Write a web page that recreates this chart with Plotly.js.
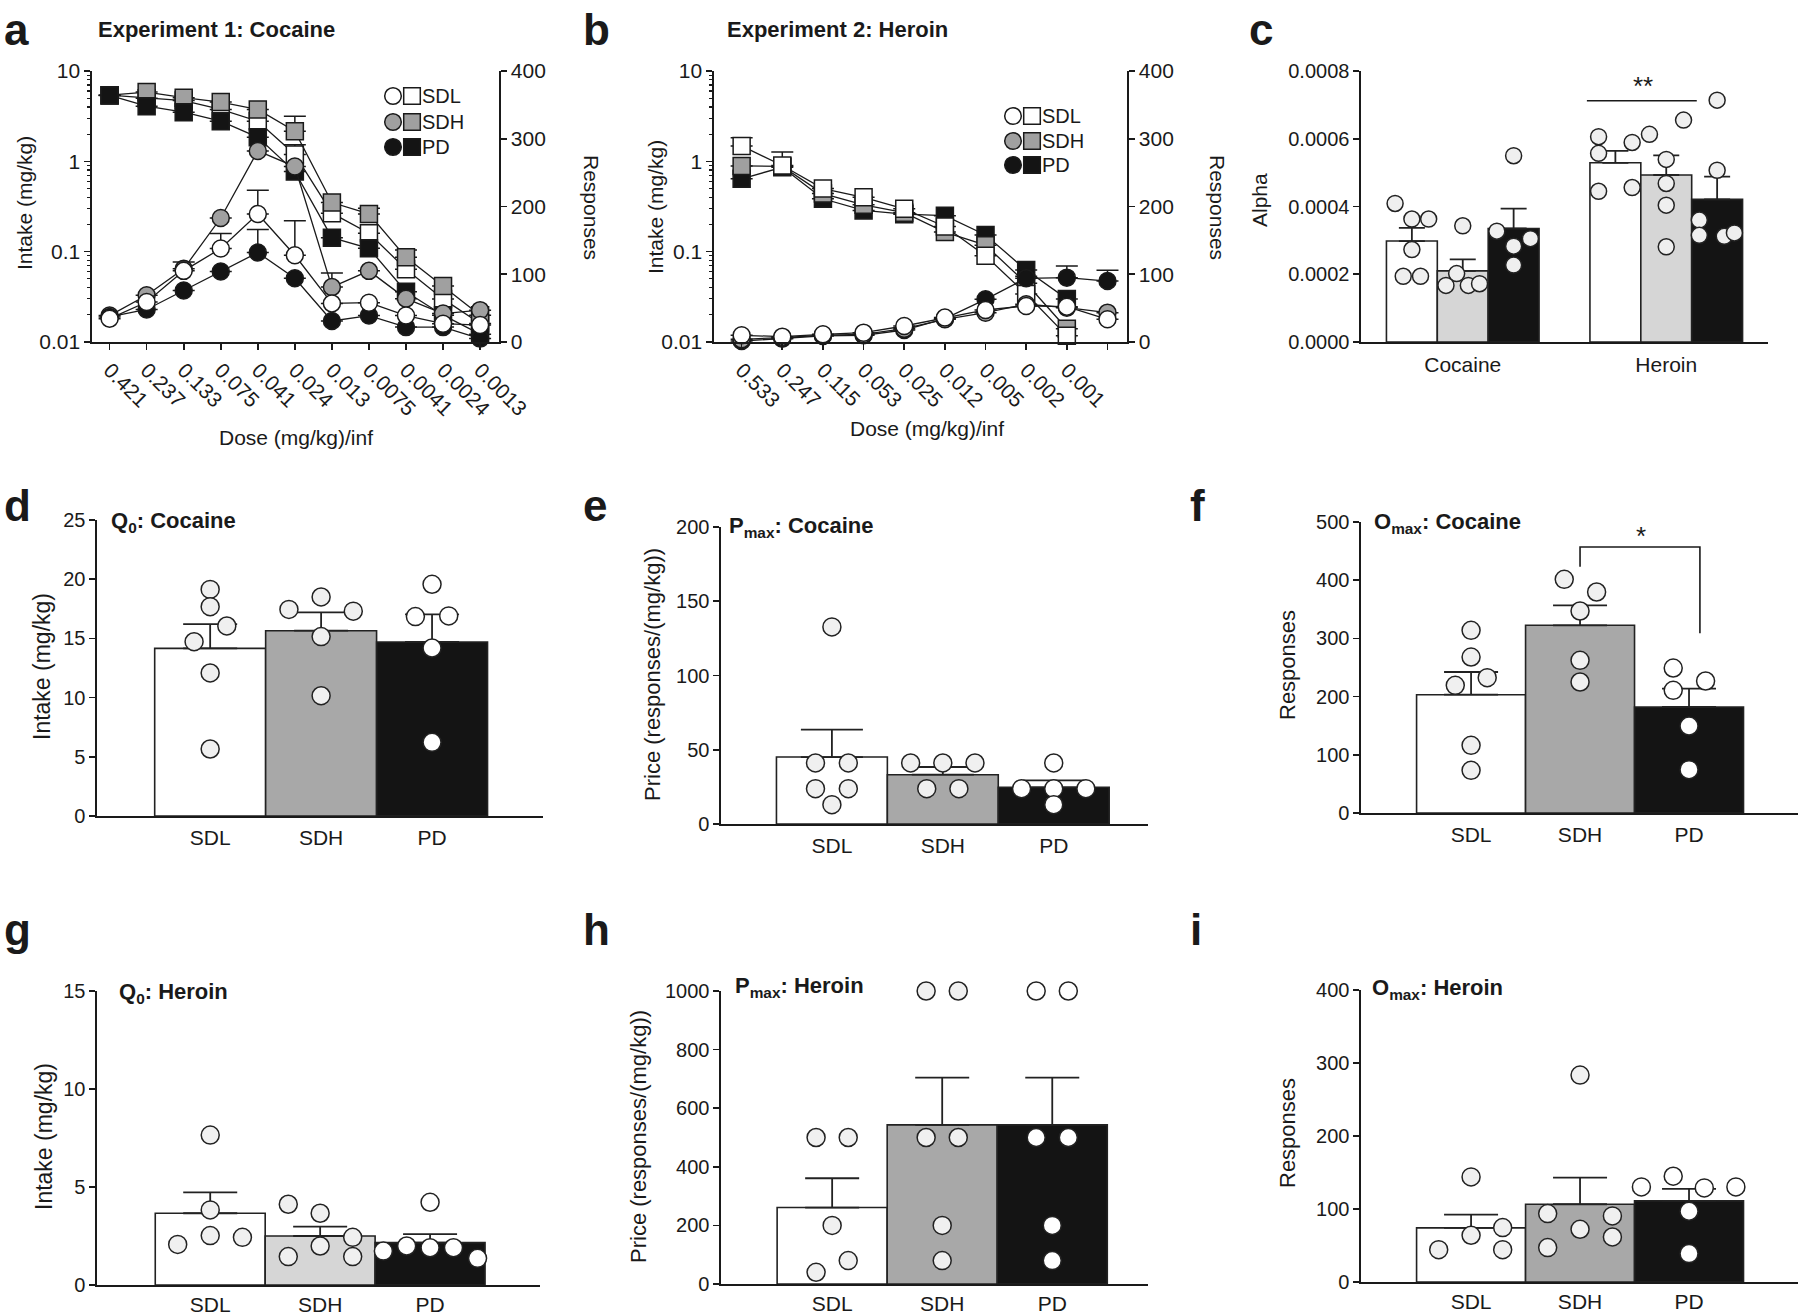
<!DOCTYPE html>
<html>
<head>
<meta charset="utf-8">
<script src="https://cdn.plot.ly/plotly-3.0.1.min.js"></script>
<style>
  body { margin: 0; background: #fff; }
  #chart { width: 1800px; height: 1316px; }
</style>
</head>
<body>
<div id="chart"></div>
<script>
const W = 1800, H = 1316;
const FONT = "Liberation Sans, Arial, Helvetica, sans-serif";
const INK = "#1a1a1a";

const groups = ["SDL", "SDH", "PD"];
const barFill = ["#ffffff", "#a8a8a8", "#141414"];
const barFillLight = ["#ffffff", "#d6d6d6", "#141414"];
const curveFill = ["#ffffff", "#a0a0a0", "#141414"];

// ---- a: cocaine demand curves (squares = intake, circles = responses)
const cocaineDoses = ["0.421", "0.237", "0.133", "0.075", "0.041", "0.024", "0.013", "0.0075", "0.0041", "0.0024", "0.0013"];
const cocIntake = [
  [5.4, 5.0, 4.7, 3.75, 2.78, 1.19, 0.267, 0.16, 0.064, 0.030, 0.016],
  [5.4, 5.85, 5.06, 4.53, 3.75, 2.15, 0.35, 0.262, 0.0865, 0.0416, 0.0198],
  [5.37, 4.08, 3.5, 2.78, 1.85, 0.77, 0.143, 0.109, 0.036, 0.0198, 0.0122]
];
const cocIntakeErr = [
  [0, 0, 0, 0, 0, 0.34, 0, 0, 0, 0, 0],
  [0, 0, 0, 0, 0, 1.0, 0, 0.04, 0.018, 0, 0],
  [0, 0, 0, 0, 0, 0, 0, 0, 0, 0, 0]
];
const cocResp = [
  [34.5, 59, 105, 138, 189, 128, 57, 58, 39, 27, 25],
  [39, 69, 108, 183, 282, 259, 81, 105, 64, 42, 47],
  [37, 48, 76, 104, 132, 94, 31, 39, 22, 22, 5]
];
const cocRespErr = [
  [0, 0, 13, 22, 35, 51, 0, 0, 0, 0, 0],
  [0, 0, 0, 0, 0, 0, 21, 0, 0, 0, 0],
  [0, 0, 0, 0, 34, 0, 0, 0, 0, 0, 0]
];

// ---- b: heroin demand curves
const heroinDoses = ["0.533", "0.247", "0.115", "0.053", "0.025", "0.012", "0.005", "0.002", "0.001", ""];
const herIntake = [
  [1.48, 0.90, 0.50, 0.40, 0.298, 0.19, 0.090, 0.034, 0.0117],
  [0.89, 0.88, 0.44, 0.33, 0.27, 0.165, 0.118, 0.0447, 0.014],
  [0.64, 0.86, 0.385, 0.286, 0.26, 0.25, 0.153, 0.0625, 0.030]
];
const herIntakeErr = [
  [0.35, 0.37, 0, 0, 0, 0, 0, 0, 0],
  [0, 0, 0, 0, 0, 0, 0, 0, 0],
  [0, 0, 0, 0, 0, 0, 0, 0, 0]
];
const herResp = [
  [9.9, 7.9, 11.3, 13.8, 23.6, 36, 47.3, 53.2, 52.2, 33.5],
  [4, 6.4, 10, 11.3, 19.7, 33.5, 43.3, 55.7, 50.7, 43.3],
  [1.5, 4.9, 8.9, 9.9, 17.7, 34.5, 63, 94, 95, 90]
];
const herRespErr = [
  [0, 0, 0, 0, 0, 0, 0, 0, 0, 0],
  [0, 0, 0, 0, 0, 0, 0, 0, 0, 0],
  [0, 0, 0, 0, 0, 0, 0, 3, 17, 16]
];

// ---- c: alpha (cocaine bars at 0-2, heroin bars at 4-6)
const alphaCats = ["Cocaine", "Heroin"];
const alphaBarX = [0, 1, 2, 4, 5, 6];
const alphaMean = [0.000298, 0.000210, 0.000335, 0.000529, 0.000493, 0.000421];
const alphaTop = [0.000337, 0.000244, 0.000394, 0.000564, 0.000551, 0.000488];
const alphaDotsY = [
  [0.000409, 0.000363, 0.000363, 0.000273, 0.000194, 0.000194],
  [0.000343, 0.000202, 0.000167, 0.000167, 0.000172],
  [0.000550, 0.000327, 0.000305, 0.000283, 0.000227],
  [0.000606, 0.000557, 0.000445, 0.000589, 0.000456],
  [0.000613, 0.000655, 0.000539, 0.000468, 0.000404, 0.000281],
  [0.000714, 0.000507, 0.000360, 0.000315, 0.000312, 0.000322]
];
const alphaDotsDx = [
  [-0.33, 0, 0.33, 0, -0.17, 0.17],
  [0, -0.12, -0.33, 0.11, 0.33],
  [0, -0.33, 0.33, 0, 0],
  [-0.33, -0.33, -0.33, 0.33, 0.33],
  [-0.33, 0.34, 0, 0, 0, 0],
  [0, 0, -0.35, -0.35, 0.14, 0.34]
];

// ---- d: Q0 cocaine
const qCocMean = [14.16, 15.65, 14.7];
const qCocTop = [16.2, 17.2, 17.03];
const qCocDotsY = [[19.14, 17.68, 16.05, 14.72, 12.08, 5.66], [18.5, 17.45, 17.3, 15.15, 10.16], [19.57, 16.84, 16.9, 14.19, 6.22]];
const qCocDotsDx = [[0, 0, 0.15, -0.145, 0, 0], [0, -0.29, 0.29, 0, 0], [0, -0.15, 0.15, 0, 0]];

// ---- e: Pmax cocaine
const pCocMean = [45.1, 33.2, 24.7];
const pCocTop = [63.5, 38.4, 29.4];
const pCocDotsY = [[132.7, 41.1, 41.1, 23.8, 23.8, 13.0], [41.1, 41.1, 41.1, 23.8, 23.8], [41.1, 23.8, 23.8, 23.8, 13.0]];
const pCocDotsDx = [[0, -0.148, 0.148, -0.148, 0.148, 0], [-0.29, 0, 0.29, -0.145, 0.145], [0, -0.29, 0, 0.29, 0]];

// ---- f: Omax cocaine
const oCocMean = [203.3, 322.5, 182.1];
const oCocTop = [242.3, 356.8, 213.6];
const oCocDotsY = [[313.9, 268, 219.4, 232.5, 116.3, 73.3], [401.5, 379.7, 347.1, 262.3, 225.1], [249.1, 226.8, 210.8, 149.5, 74.5]];
const oCocDotsDx = [[0, 0, -0.145, 0.148, 0, 0], [-0.145, 0.152, 0, 0, 0], [-0.145, 0.152, -0.145, 0, 0]];

// ---- g: Q0 heroin
const qHerMean = [3.66, 2.5, 2.16];
const qHerTop = [4.73, 2.98, 2.6];
const qHerDotsY = [[7.65, 3.83, 2.52, 2.07, 2.43], [4.12, 3.66, 2.43, 1.99, 1.45, 1.45], [4.22, 1.73, 1.99, 1.9, 1.9, 1.36]];
const qHerDotsDx = [[0, 0, 0, -0.296, 0.293], [-0.29, 0, 0.296, 0, -0.29, 0.296], [0, -0.425, -0.213, 0, 0.213, 0.432]];

// ---- h: Pmax heroin
const pHerMean = [261, 543, 543];
const pHerTop = [361, 704.5, 704.5];
const pHerDotsY = [[500, 500, 200, 80, 40], [1000, 1000, 500, 500, 200, 80], [1000, 1000, 500, 500, 200, 80]];
const pHerDotsDx = [[-0.146, 0.146, 0, 0.146, -0.146], [-0.146, 0.146, -0.146, 0.146, 0, 0], [-0.146, 0.146, -0.146, 0.146, 0, 0]];

// ---- i: Omax heroin
const oHerMean = [74.1, 106.5, 111.1];
const oHerTop = [92.3, 143.1, 127.5];
const oHerDotsY = [[144, 74.5, 64, 44.3, 44.3], [283.4, 93.7, 90.5, 72.2, 61.7, 47.1], [144.9, 130.3, 128.9, 130.3, 96.9, 38.9]];
const oHerDotsDx = [[0, 0.29, 0, -0.297, 0.29], [0, -0.297, 0.297, 0, 0.297, -0.297], [-0.145, -0.437, 0.14, 0.43, 0, 0]];

const logMajor = [0.01, 0.1, 1, 10];
const logMajorText = ["0.01", "0.1", "1", "10"];
const logMinor = [0.02, 0.03, 0.04, 0.05, 0.06, 0.07, 0.08, 0.09, 0.2, 0.3, 0.4, 0.5, 0.6, 0.7, 0.8, 0.9, 2, 3, 4, 5, 6, 7, 8, 9];

// pixel helpers (whole figure is one paper of W x H)
const px = x => x / W;
const py = y => 1 - y / H;
const xd = (a, b) => [px(a), px(b)];
const yd = (top, bottom) => [py(bottom), py(top)];

function baseAxis(extra) {
  return Object.assign({
    showline: true, linecolor: INK, linewidth: 1.6, showgrid: false, zeroline: false,
    ticks: "outside", ticklen: 6, tickwidth: 1.6, tickcolor: INK,
    tickfont: { family: FONT, size: 20, color: INK }, fixedrange: true
  }, extra);
}
const bigTick = { family: FONT, size: 21, color: INK };

const traces = [];

function curve(xs, ys, errs, g, xa, ya, symbol) {
  traces.push({
    type: "scatter", mode: "lines+markers", x: xs, y: ys, xaxis: xa, yaxis: ya,
    line: { color: INK, width: 1.3 },
    marker: { symbol: symbol, size: 17, color: curveFill[g], line: { color: INK, width: 1.5 } },
    error_y: { type: "data", symmetric: false, array: errs, arrayminus: errs.map(() => 0), color: INK, thickness: 1.5, width: 11 },
    cliponaxis: false, showlegend: false, hoverinfo: "skip"
  });
}

function bars(xa, ya, xpos, means, tops, fills, capW) {
  traces.push({
    type: "bar", x: xpos, y: means, width: xpos.map(() => 1), xaxis: xa, yaxis: ya,
    marker: { color: fills, line: { color: "#222", width: 1.6 } },
    error_y: { type: "data", symmetric: false, array: tops.map((t, i) => t - means[i]), arrayminus: means.map(() => 0), color: "#222", thickness: 1.8, width: capW },
    showlegend: false, hoverinfo: "skip"
  });
}

function dots(xa, ya, center, dx, ys, fill, size) {
  traces.push({
    type: "scatter", mode: "markers", x: dx.map(d => center + d), y: ys, xaxis: xa, yaxis: ya,
    marker: { size: size, color: fill, line: { color: "#222", width: 1.5 } },
    cliponaxis: false, showlegend: false, hoverinfo: "skip"
  });
}

// a
const cocX = cocaineDoses.map((_, i) => i);
[0, 1, 2].forEach(g => curve(cocX, cocIntake[g], cocIntakeErr[g], g, "x", "y", "square"));
[1, 2, 0].forEach(g => curve(cocX, cocResp[g], cocRespErr[g], g, "x", "y2", "circle"));
// b
const herX = heroinDoses.map((_, i) => i);
[2, 1, 0].forEach(g => curve(herX.slice(0, 9), herIntake[g], herIntakeErr[g], g, "x2", "y3", "square"));
[2, 1, 0].forEach(g => curve(herX, herResp[g], herRespErr[g], g, "x2", "y4", "circle"));
// c
bars("x3", "y5", alphaBarX, alphaMean, alphaTop, barFillLight.concat(barFillLight), 13);
alphaBarX.forEach((c, k) => dots("x3", "y5", c, alphaDotsDx[k], alphaDotsY[k], "#efefef", 16));
// d-i
const barPanels = [
  ["x4", "y6", qCocMean, qCocTop, qCocDotsY, qCocDotsDx, barFill, 27],
  ["x5", "y7", pCocMean, pCocTop, pCocDotsY, pCocDotsDx, barFill, 31],
  ["x6", "y8", oCocMean, oCocTop, oCocDotsY, oCocDotsDx, barFill, 27],
  ["x7", "y9", qHerMean, qHerTop, qHerDotsY, qHerDotsDx, barFillLight, 27],
  ["x8", "y10", pHerMean, pHerTop, pHerDotsY, pHerDotsDx, barFill, 27],
  ["x9", "y11", oHerMean, oHerTop, oHerDotsY, oHerDotsDx, barFill, 27]
];
barPanels.forEach(([xa, ya, m, t, dy, ddx, fills, cap]) => {
  bars(xa, ya, [0, 1, 2], m, t, fills, cap);
  [0, 1, 2].forEach(g => dots(xa, ya, g, ddx[g], dy[g], g === 2 ? "#ffffff" : "#f0f0f0", 18));
});

const catAxis = (dom, range, anchor, standoff) => baseAxis({
  domain: dom, range: range, anchor: anchor, tickvals: [0, 1, 2], ticktext: groups, ticks: "",
  tickfont: { family: FONT, size: 21, color: INK }, ticklabelstandoff: standoff
});

const layout = {
  width: W, height: H, margin: { l: 0, r: 0, t: 0, b: 0 },
  paper_bgcolor: "#ffffff", plot_bgcolor: "rgba(0,0,0,0)",
  font: { family: FONT, color: INK }, showlegend: false,
  // a
  xaxis: baseAxis({ domain: xd(92, 499), range: [-0.475, 10.51], tickvals: cocX, ticktext: cocaineDoses, tickangle: 45, anchor: "y", tickfont: bigTick }),
  yaxis: baseAxis({ domain: yd(71, 342), type: "log", range: [-2, 1], tickvals: logMajor, ticktext: logMajorText, anchor: "x", tickfont: bigTick,
    minor: { tickmode: "array", tickvals: logMinor, ticks: "outside", ticklen: 3, tickwidth: 1.2, tickcolor: INK } }),
  yaxis2: baseAxis({ overlaying: "y", side: "right", anchor: "x", range: [0, 400], tickvals: [0, 100, 200, 300, 400], tickfont: bigTick }),
  // b
  xaxis2: baseAxis({ domain: xd(714, 1127), range: [-0.68, 9.48], tickvals: herX, ticktext: heroinDoses, tickangle: 45, anchor: "y3", tickfont: bigTick }),
  yaxis3: baseAxis({ domain: yd(71, 342), type: "log", range: [-2, 1], tickvals: logMajor, ticktext: logMajorText, anchor: "x2", tickfont: bigTick,
    minor: { tickmode: "array", tickvals: logMinor, ticks: "outside", ticklen: 3, tickwidth: 1.2, tickcolor: INK } }),
  yaxis4: baseAxis({ overlaying: "y3", side: "right", anchor: "x2", range: [0, 400], tickvals: [0, 100, 200, 300, 400], tickfont: bigTick }),
  // c
  xaxis3: baseAxis({ domain: xd(1361, 1768), range: [-1, 7], tickvals: [1, 5], ticktext: alphaCats, ticks: "", anchor: "y5",
    tickfont: { family: FONT, size: 21, color: INK }, ticklabelstandoff: 3 }),
  yaxis5: baseAxis({ domain: yd(71, 342), range: [0, 0.0008], tickvals: [0, 0.0002, 0.0004, 0.0006, 0.0008],
    ticktext: ["0.0000", "0.0002", "0.0004", "0.0006", "0.0008"], anchor: "x3" }),
  // d
  xaxis4: catAxis(xd(97, 543), [-1.02, 3.0], "y6", 2),
  yaxis6: baseAxis({ domain: yd(520, 816), range: [0, 25], tickvals: [0, 5, 10, 15, 20, 25], anchor: "x4" }),
  // e
  xaxis5: catAxis(xd(721, 1148), [-1.0, 2.85], "y7", 2),
  yaxis7: baseAxis({ domain: yd(527, 824), range: [0, 200], tickvals: [0, 50, 100, 150, 200], anchor: "x5" }),
  // f
  xaxis6: catAxis(xd(1361, 1798), [-1.01, 3.0], "y8", 2),
  yaxis8: baseAxis({ domain: yd(522, 813), range: [0, 500], tickvals: [0, 100, 200, 300, 400, 500], anchor: "x6" }),
  // g
  xaxis7: catAxis(xd(97, 540), [-1.03, 3.0], "y9", 0),
  yaxis9: baseAxis({ domain: yd(991, 1285), range: [0, 15], tickvals: [0, 5, 10, 15], anchor: "x7" }),
  // h
  xaxis8: catAxis(xd(721, 1148), [-1.01, 2.87], "y10", 0),
  yaxis10: baseAxis({ domain: yd(991, 1284), range: [0, 1000], tickvals: [0, 200, 400, 600, 800, 1000], anchor: "x8" }),
  // i
  xaxis9: catAxis(xd(1361, 1798), [-1.01, 3.0], "y11", 0),
  yaxis11: baseAxis({ domain: yd(990, 1282), range: [0, 400], tickvals: [0, 100, 200, 300, 400], anchor: "x9" })
};

function note(text, x, y, size, extra) {
  return Object.assign({
    text: text, x: px(x), y: py(y), xref: "paper", yref: "paper", showarrow: false,
    xanchor: "center", yanchor: "middle", font: { family: FONT, size: size, color: INK }
  }, extra || {});
}

const ann = [];
// panel letters
[["a", 3, 29], ["b", 582, 29], ["c", 1248, 29], ["d", 3, 506], ["e", 582, 506], ["f", 1189, 506],
 ["g", 3, 929], ["h", 582, 929], ["i", 1189, 929]].forEach(([t, x, y]) =>
  ann.push(note("<b>" + t + "</b>", x, y, 44, { xanchor: "left", borderpad: 0 })));
// panel titles
ann.push(note("<b>Experiment 1: Cocaine</b>", 96, 30, 22, { xanchor: "left" }));
ann.push(note("<b>Experiment 2: Heroin</b>", 725, 30, 22, { xanchor: "left" }));
ann.push(note("<b>Q<sub>0</sub>: Cocaine</b>", 109, 522, 22, { xanchor: "left" }));
ann.push(note("<b>P<sub>max</sub>: Cocaine</b>", 727, 527, 22, { xanchor: "left" }));
ann.push(note("<b>O<sub>max</sub>: Cocaine</b>", 1372, 523, 22, { xanchor: "left" }));
ann.push(note("<b>Q<sub>0</sub>: Heroin</b>", 117, 993, 22, { xanchor: "left" }));
ann.push(note("<b>P<sub>max</sub>: Heroin</b>", 733, 987, 22, { xanchor: "left" }));
ann.push(note("<b>O<sub>max</sub>: Heroin</b>", 1370, 989, 22, { xanchor: "left" }));
// axis titles
ann.push(note("Intake (mg/kg)", 24, 203, 21, { textangle: -90 }));
ann.push(note("Responses", 592, 207, 21, { textangle: 90 }));
ann.push(note("Dose (mg/kg)/inf", 296, 437, 21));
ann.push(note("Intake (mg/kg)", 655, 207, 21, { textangle: -90 }));
ann.push(note("Responses", 1218, 207, 21, { textangle: 90 }));
ann.push(note("Dose (mg/kg)/inf", 927, 428, 21));
ann.push(note("Alpha", 1260, 200, 21, { textangle: -90 }));
ann.push(note("Intake (mg/kg)", 42, 667, 23, { textangle: -90 }));
ann.push(note("Price (responses/(mg/kg))", 652, 675, 22, { textangle: -90 }));
ann.push(note("Responses", 1287, 665, 22, { textangle: -90 }));
ann.push(note("Intake (mg/kg)", 44, 1137, 23, { textangle: -90 }));
ann.push(note("Price (responses/(mg/kg))", 638, 1137, 22, { textangle: -90 }));
ann.push(note("Responses", 1287, 1133, 22, { textangle: -90 }));
// significance
ann.push(note("**", 1643, 86, 26));
ann.push(note("*", 1641, 536, 26));

// legends for a and b
const shapes = [];
function legend(cx, sx, tx, rows) {
  rows.forEach((y, g) => {
    const r = 8.3;
    shapes.push({ type: "circle", xref: "paper", yref: "paper", x0: px(cx - r), x1: px(cx + r), y0: py(y + r), y1: py(y - r),
      fillcolor: curveFill[g], line: { color: INK, width: 1.5 } });
    shapes.push({ type: "rect", xref: "paper", yref: "paper", x0: px(sx - r), x1: px(sx + r), y0: py(y + r), y1: py(y - r),
      fillcolor: curveFill[g], line: { color: INK, width: 1.5 } });
    ann.push(note(groups[g], tx, y, 20, { xanchor: "left" }));
  });
}
legend(393, 412, 420, [96, 122, 147]);
legend(1013, 1032, 1040, [116, 141, 165]);

shapes.push({ type: "line", xref: "x3", yref: "y5", x0: 3.44, x1: 5.6, y0: 0.000712, y1: 0.000712, line: { color: INK, width: 1.6 } });
shapes.push({ type: "path", xref: "x6", yref: "y8", path: "M1,423 L1,457 L2.1,457 L2.1,309", line: { color: INK, width: 1.6 } });

layout.annotations = ann;
layout.shapes = shapes;

Plotly.newPlot("chart", traces, layout, { staticPlot: true, displayModeBar: false });
</script>
</body>
</html>
